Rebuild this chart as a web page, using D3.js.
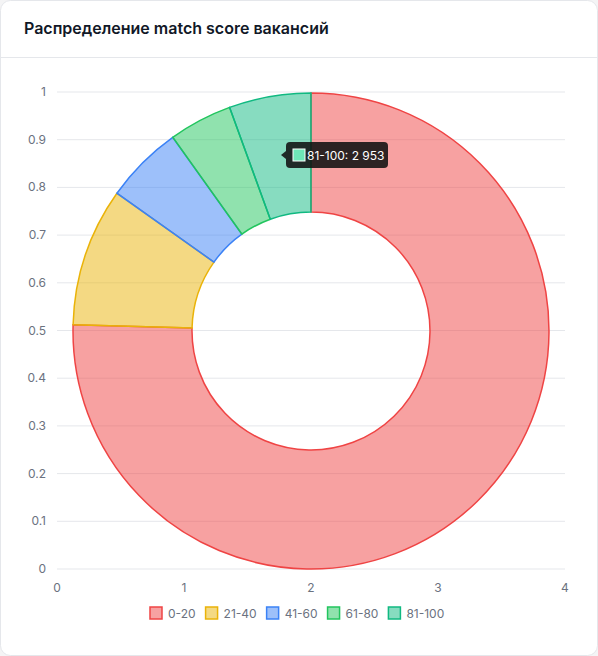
<!DOCTYPE html>
<html><head><meta charset="utf-8">
<script src="https://cdn.jsdelivr.net/npm/d3@7"></script>
<style>
body{margin:0;background:#f4f4f5;font-family:Inter,"Noto Sans",sans-serif;}
</style></head><body>
<svg id="c" width="598" height="656"></svg>
<script>
const categories = ["0-20","21-40","41-60","61-80","81-100"];
const values = [40070, 5000, 2820, 2290, 2953];
const borderColors = ["#ef4444","#eab308","#3b82f6","#22c55e","#10b981"];
const yTicks = [0,0.1,0.2,0.3,0.4,0.5,0.6,0.7,0.8,0.9,1];
const xTicks = [0,1,2,3,4];

const svg = d3.select("#c");
svg.append("rect").attr("x",0.5).attr("y",0.5).attr("width",597).attr("height",655).attr("rx",10)
  .attr("fill","#fff").attr("stroke","#e5e7eb");
svg.append("text").attr("x",24).attr("y",34).text("Распределение match score вакансий")
  .attr("font-size",16).attr("font-weight",600).attr("fill","#111827");
svg.append("line").attr("x1",1).attr("x2",597).attr("y1",57.5).attr("y2",57.5).attr("stroke","#e5e7eb");

const x = d3.scaleLinear().domain([0,4]).range([57,565]);
const y = d3.scaleLinear().domain([0,1]).range([569,92]);
const g = svg.append("g");
yTicks.forEach(t=>{
  g.append("line").attr("x1",x(0)).attr("x2",x(4)).attr("y1",y(t)).attr("y2",y(t)).attr("stroke","#e5e7eb");
  g.append("text").attr("x",46).attr("y",y(t)+4).attr("text-anchor","end").attr("font-size",12).attr("fill","#6b7280").text(t);
});
xTicks.forEach(t=>{
  g.append("text").attr("x",x(t)).attr("y",592).attr("text-anchor","middle").attr("font-size",12).attr("fill","#6b7280").text(t);
});

const cx=311, cy=331, R=238, r=119;
const pie = d3.pie().sort(null)(values);
const arc = d3.arc().innerRadius(r).outerRadius(R);
const pg = svg.append("g").attr("transform",`translate(${cx},${cy})`);
pg.selectAll("path").data(pie).join("path").attr("d",arc)
  .attr("fill",(d,i)=>borderColors[i]).attr("fill-opacity",0.5)
  .attr("stroke",(d,i)=>borderColors[i]).attr("stroke-width",1.5);

// tooltip
const tt = svg.append("g").attr("transform","translate(286,142)");
tt.append("path").attr("d","M0,9 L-5,13 L0,17 Z").attr("fill","rgba(17,17,17,0.88)");
tt.append("rect").attr("width",102).attr("height",26).attr("rx",4).attr("fill","rgba(17,17,17,0.88)");
tt.append("rect").attr("x",7).attr("y",7).attr("width",12).attr("height",12).attr("fill","#6ee7b7").attr("stroke","#fff").attr("stroke-width",1);
tt.append("text").attr("x",21).attr("y",18).attr("font-size",12).attr("fill","#fff").text(categories[4]+": "+d3.format(",")(values[4]).replace(/,/g," "));

// legend
let lx=150;
const lg = svg.append("g");
categories.forEach((c,i)=>{
  lg.append("rect").attr("x",lx).attr("y",607).attr("width",12).attr("height",12)
    .attr("fill",borderColors[i]).attr("fill-opacity",0.5).attr("stroke",borderColors[i]).attr("stroke-width",1.5);
  const t = lg.append("text").attr("x",lx+18).attr("y",618).attr("font-size",12).attr("fill","#6b7280").text(c);
  lx += 18 + t.node().getComputedTextLength() + 10;
});
</script></body></html>
